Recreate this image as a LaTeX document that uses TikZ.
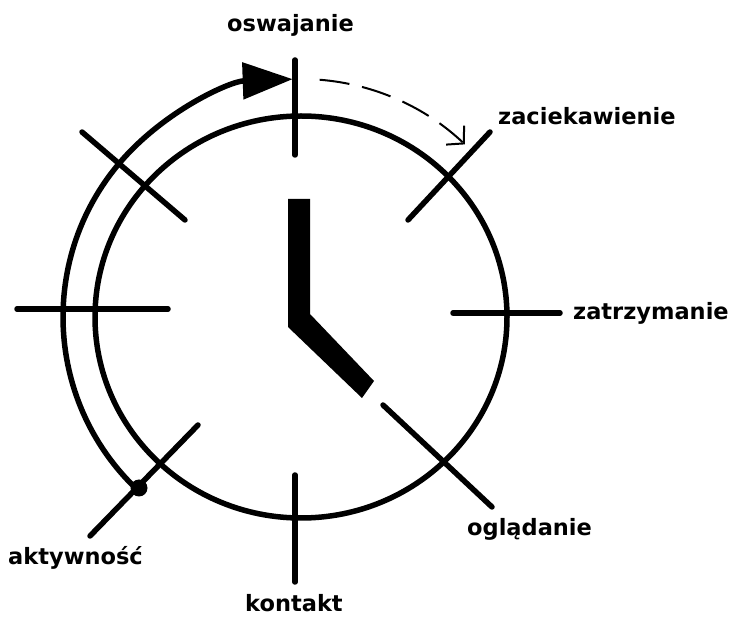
\documentclass[tikz,border=0pt]{standalone}
\usepackage{fontspec}
\setmainfont{DejaVu Sans}
\usetikzlibrary{arrows.meta}
\begin{document}
\begin{tikzpicture}[x=1pt,y=1pt,
  stroke/.style={line width=5.5pt,line cap=round},
  lbl/.style={anchor=base west,inner sep=0pt,font=\fontsize{22.5}{27}\selectfont\bfseries},
  dashedarc/.style={line width=2pt,dash pattern=on 30pt off 13pt,-{Straight Barb[length=12pt,width=26pt,line width=2pt]}}]
\useasboundingbox (0,0) rectangle (731,616);
\coordinate (C) at (301,299);
% face
\draw[stroke] (C) ellipse [x radius=206, y radius=201];
% ticks
\draw[stroke] (295,556) -- (295,461);
\draw[stroke] (490,484) -- (408,396);
\draw[stroke] (453,303) -- (560,303);
\draw[stroke] (383,211) -- (492,109);
\draw[stroke] (295,141) -- (295,34);
\draw[stroke] (198,191) -- (90,80);
\draw[stroke] (17,307) -- (168,307);
\draw[stroke] (82,484) -- (185,396);
% hands
\fill (288,417) -- (310,417) -- (310,302) -- (374,235) -- (362,218) -- (288,289) -- cycle;
% outer arc with arrow
\draw[line width=5.5pt,-{Triangle[length=50pt,width=36pt]}] (C) ++(226.5:238) arc[start angle=226.5,end angle=92,radius=238];
\coordinate (dot) at (139,128);
\fill (dot) circle (8.5);
% dashed arc
\draw[dashedarc] (C) ++(85.5:238) arc[start angle=85.5,end angle=46.5,radius=238];
% labels
\node[lbl] (osw) at (227,584) {oswajanie};
\node[lbl] (zac) at (498,491) {zaciekawienie};
\node[lbl] (zat) at (573,296) {zatrzymanie};
\node[lbl] (ogl) at (467,81) {oglądanie};
\node[lbl] (akt) at (8,52) {aktywność};
\node[lbl] (kon) at (245,5) {kontakt};
\end{tikzpicture}
\end{document}
